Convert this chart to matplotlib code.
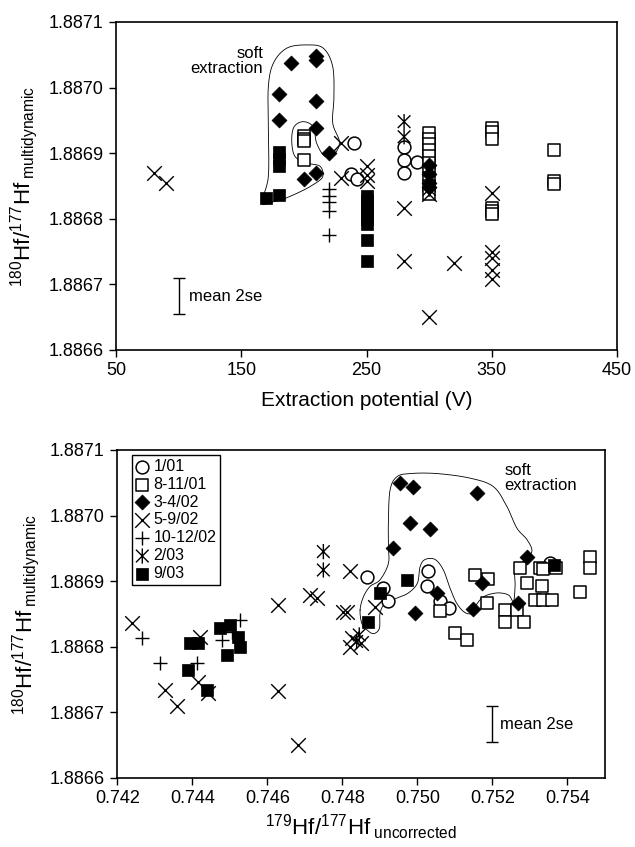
import numpy as np
import matplotlib
matplotlib.use('Agg')
import matplotlib.pyplot as plt
import matplotlib.ticker as ticker
from matplotlib.path import Path

plt.rcParams['font.family'] = 'Liberation Sans'
plt.rcParams['mathtext.fontset'] = 'custom'
plt.rcParams['mathtext.rm'] = 'Liberation Sans'
plt.rcParams['mathtext.it'] = 'Liberation Sans:italic'
plt.rcParams['mathtext.bf'] = 'Liberation Sans:bold'

labels = ['1/01', '8-11/01', '3-4/02', '5-9/02', '10-12/02', '2/03', '9/03']

########## TOP PANEL: extraction potential (V) vs 180Hf/177Hf ##########
top_v = {
    '1/01':    [240, 238, 242, 280, 280, 280, 290],
    '8-11/01': [200, 200, 200, 200,
                300, 300, 300, 300, 300, 300, 300, 300, 300, 300,
                350, 350, 350, 350, 350, 350,
                400, 400, 400],
    '3-4/02':  [180, 180, 190, 200, 210, 210, 210, 210, 210, 220,
                300, 300, 300, 300],
    '5-9/02':  [80, 90, 230, 230, 250, 250, 250, 280, 280, 300, 300, 320,
                350, 350, 350, 350, 350],
    '10-12/02': [220, 220, 220, 220, 220],
    '2/03':    [280, 280, 300],
    '9/03':    [170, 180, 180, 180, 180,
                250, 250, 250, 250, 250, 250, 250, 250, 250],
}
top_r = {
    '1/01':    [1.886915, 1.886868, 1.886860, 1.886910, 1.886890, 1.886869, 1.886887],
    '8-11/01': [1.886926, 1.886922, 1.886918, 1.886890,
                1.886930, 1.886922, 1.886914, 1.886905, 1.886896, 1.886885,
                1.886875, 1.886862, 1.886850, 1.886838,
                1.886939, 1.886932, 1.886922, 1.886817, 1.886812, 1.886807,
                1.886905, 1.886857, 1.886853],
    '3-4/02':  [1.886990, 1.886950, 1.887037, 1.886860, 1.887048, 1.887042,
                1.886980, 1.886938, 1.886870, 1.886900,
                1.886882, 1.886868, 1.886855, 1.886848],
    '5-9/02':  [1.886870, 1.886854, 1.886915, 1.886862, 1.886880, 1.886867,
                1.886857, 1.886816, 1.886735, 1.886838, 1.886650, 1.886732,
                1.886839, 1.886750, 1.886740, 1.886722, 1.886708],
    '10-12/02': [1.886845, 1.886835, 1.886825, 1.886812, 1.886775],
    '2/03':    [1.886948, 1.886925, 1.886845],
    '9/03':    [1.886831, 1.886836, 1.886901, 1.886891, 1.886881,
                1.886835, 1.886828, 1.886820, 1.886813, 1.886806, 1.886800,
                1.886792, 1.886768, 1.886735],
}

########## BOTTOM PANEL: 179Hf/177Hf vs 180Hf/177Hf ##########
bot_x = {
    '1/01':    [0.748651, 0.749093, 0.749227, 0.750293, 0.750251, 0.750600,
                0.750830, 0.753539],
    '8-11/01': [0.751539, 0.751893, 0.752740, 0.753270, 0.753340, 0.752917,
                0.753317, 0.753139, 0.753360, 0.753580, 0.751850, 0.750605,
                0.752340, 0.752650, 0.752340, 0.752830, 0.751000, 0.751320,
                0.754600, 0.754600, 0.754330, 0.753700],
    '3-4/02':  [0.749539, 0.749893, 0.751584, 0.749805, 0.750340, 0.749360,
                0.752917, 0.751717, 0.750517, 0.749939, 0.751493, 0.752693],
    '5-9/02':  [0.742384, 0.743272, 0.743584, 0.744205, 0.744160, 0.744427,
                0.746293, 0.746293, 0.746827, 0.747139, 0.747317, 0.748027,
                0.748117, 0.748205, 0.748205, 0.748250, 0.748500, 0.748872],
    '10-12/02': [0.742650, 0.743139, 0.744117, 0.744784, 0.745272, 0.745050],
    '2/03':    [0.747493, 0.747493, 0.748380, 0.748450],
    '9/03':    [0.743939, 0.744160, 0.743893, 0.744384, 0.744739, 0.745005,
                0.745227, 0.745272, 0.744917, 0.749717, 0.749005, 0.748693,
                0.753630],
}
bot_r = {
    '1/01':    [1.886907, 1.886889, 1.886869, 1.886915, 1.886892, 1.886869,
                1.886859, 1.886927],
    '8-11/01': [1.886909, 1.886904, 1.886920, 1.886920, 1.886918, 1.886897,
                1.886892, 1.886871, 1.886871, 1.886871, 1.886866, 1.886854,
                1.886856, 1.886856, 1.886838, 1.886838, 1.886821, 1.886810,
                1.886937, 1.886920, 1.886884, 1.886920],
    '3-4/02':  [1.887049, 1.887044, 1.887034, 1.886988, 1.886980, 1.886950,
                1.886937, 1.886897, 1.886882, 1.886851, 1.886857, 1.886867],
    '5-9/02':  [1.886836, 1.886734, 1.886709, 1.886815, 1.886747, 1.886729,
                1.886864, 1.886732, 1.886650, 1.886879, 1.886874, 1.886853,
                1.886853, 1.886915, 1.886800, 1.886813, 1.886805, 1.886860],
    '10-12/02': [1.886814, 1.886775, 1.886775, 1.886810, 1.886841, 1.886822],
    '2/03':    [1.886945, 1.886917, 1.886808, 1.886818],
    '9/03':    [1.886805, 1.886805, 1.886765, 1.886734, 1.886828, 1.886833,
                1.886815, 1.886800, 1.886787, 1.886902, 1.886882, 1.886837,
                1.886925],
}

# hand drawn "soft extraction" outlines (data coords)
top_loop = [(166.3, 1.886824), (171.6, 1.886864), (171.6, 1.886940), (171.6, 1.887001),
            (175.6, 1.887037), (186.3, 1.887060), (202.3, 1.887065), (215.5, 1.887060),
            (223.0, 1.887032), (224.0, 1.886986), (223.0, 1.886946), (228.3, 1.886918),
            (224.9, 1.886900), (216.9, 1.886895), (210.2, 1.886915), (207.5, 1.886940),
            (199.5, 1.886948), (192.1, 1.886940), (190.3, 1.886918), (192.9, 1.886895),
            (202.3, 1.886885), (212.9, 1.886880), (215.0, 1.886864), (207.5, 1.886852),
            (196.9, 1.886841), (183.6, 1.886830), (175.6, 1.886826)]
bot_loop = [(0.748472, 1.886856), (0.748517, 1.886836), (0.748651, 1.886826), (0.748827, 1.886820),
            (0.748987, 1.886828), (0.749005, 1.886851), (0.749139, 1.886866), (0.749451, 1.886874),
            (0.749760, 1.886882), (0.750000, 1.886897), (0.750072, 1.886922), (0.750205, 1.886933),
            (0.750472, 1.886933), (0.750693, 1.886917), (0.750872, 1.886889), (0.751051, 1.886866),
            (0.751272, 1.886852), (0.751493, 1.886851), (0.751539, 1.886861), (0.751760, 1.886876),
            (0.752117, 1.886882), (0.752427, 1.886879), (0.752560, 1.886869), (0.752605, 1.886893),
            (0.752605, 1.886917), (0.752819, 1.886930), (0.753051, 1.886945), (0.752925, 1.886963),
            (0.752650, 1.886981), (0.752384, 1.887014), (0.752027, 1.887044), (0.751405, 1.887057),
            (0.750517, 1.887064), (0.749805, 1.887064), (0.749451, 1.887059), (0.749272, 1.887039),
            (0.749227, 1.886993), (0.749227, 1.886955), (0.749227, 1.886927), (0.749005, 1.886902),
            (0.748739, 1.886892), (0.748560, 1.886876)]

mean_2se = 0.0000275

########## STYLE ##########
star = Path([(-1, -1), (1, 1), (-1, 1), (1, -1), (0, -1.2), (0, 1.2)],
            [Path.MOVETO, Path.LINETO] * 3)
styles = {
    '1/01':    dict(marker='o', s=85, facecolors='white', edgecolors='k', linewidths=1.1),
    '8-11/01': dict(marker='s', s=70, facecolors='white', edgecolors='k', linewidths=1.1),
    '3-4/02':  dict(marker='D', s=58, facecolors='k', edgecolors='k', linewidths=0.5),
    '5-9/02':  dict(marker='x', s=110, c='k', linewidths=1.0),
    '10-12/02': dict(marker='+', s=100, c='k', linewidths=1.0),
    '2/03':    dict(marker=star, s=120, facecolors='none', edgecolors='k', linewidths=1.0),
    '9/03':    dict(marker='s', s=80, facecolors='k', edgecolors='k', linewidths=0.5),
}

def smooth_loop(pts, n=16):
    # closed Catmull-Rom spline through the outline points
    p = np.array(pts, float); N = len(p); out = []
    t = np.linspace(0, 1, n, endpoint=False)[:, None]
    for i in range(N):
        p0, p1, p2, p3 = p[i-1], p[i], p[(i+1) % N], p[(i+2) % N]
        out.append(0.5*(2*p1 + (-p0+p2)*t + (2*p0-5*p1+4*p2-p3)*t**2
                        + (-p0+3*p1-3*p2+p3)*t**3))
    out = np.vstack(out)
    return np.vstack([out, out[:1]])

def style_axes(ax):
    plt.setp(ax.spines.values(), linewidth=1.2)
    ax.tick_params(direction='out', length=5, width=1, labelsize=13, pad=4)
    ax.set_ylim(1.8866, 1.8871)
    ax.yaxis.set_major_locator(ticker.MultipleLocator(0.0001))
    ax.yaxis.set_major_formatter(ticker.FormatStrFormatter('%.4f'))

fig = plt.figure(figsize=(6.35, 8.47), dpi=100)
ax1 = fig.add_axes([0.1827, 0.5868, 0.789, 0.3873])
ax2 = fig.add_axes([0.1847, 0.0815, 0.768, 0.3873])

ylab = r'$^{180}$Hf/$^{177}$Hf$_{\mathrm{\ multidynamic}}$'

# top panel
style_axes(ax1)
lp = smooth_loop(top_loop)
ax1.plot(lp[:, 0], lp[:, 1], color='k', lw=0.6, zorder=1)
for lab in labels:
    ax1.scatter(top_v[lab], top_r[lab], zorder=2, **styles[lab])
ax1.set_xlim(50, 450)
ax1.set_xticks(np.arange(50, 451, 100))
ax1.set_xlabel('Extraction potential (V)', fontsize=15)
ax1.xaxis.set_label_coords(0.5, -0.125)
ax1.set_ylabel(ylab, fontsize=16)
ax1.yaxis.set_label_coords(-0.152, 0.5)
ax1.errorbar([100], [1.886682], yerr=[mean_2se], color='k', lw=1, capsize=4.5, capthick=1)
ax1.text(108, 1.886682, 'mean 2se', fontsize=12, va='center', ha='left')
ax1.text(167.5, 1.887040, 'soft\nextraction', fontsize=12, va='center', ha='right',
         multialignment='right', linespacing=1.0)

# bottom panel
style_axes(ax2)
lp = smooth_loop(bot_loop)
ax2.plot(lp[:, 0], lp[:, 1], color='k', lw=0.6, zorder=1)
handles = []
for lab in labels:
    h = ax2.scatter(bot_x[lab], bot_r[lab], zorder=2, label=lab, **styles[lab])
    handles.append(h)
ax2.set_xlim(0.742, 0.755)
ax2.xaxis.set_major_locator(ticker.MultipleLocator(0.002))
ax2.xaxis.set_major_formatter(ticker.FormatStrFormatter('%.3f'))
ax2.set_xlabel(r'$^{179}$Hf/$^{177}$Hf$_{\mathrm{\ uncorrected}}$', fontsize=16)
ax2.xaxis.set_label_coords(0.5, -0.105)
ax2.set_ylabel(ylab, fontsize=16)
ax2.yaxis.set_label_coords(-0.155, 0.5)
ax2.errorbar([0.752], [1.886682], yerr=[mean_2se], color='k', lw=1, capsize=4.5, capthick=1)
ax2.text(0.75219, 1.886682, 'mean 2se', fontsize=12, va='center', ha='left')
ax2.text(0.75232, 1.887057, 'soft\nextraction', fontsize=12, va='center', ha='left',
         linespacing=1.0)

leg = ax2.legend(handles=handles, loc='upper left', bbox_to_anchor=(0.03, 0.985),
                 fontsize=11.5, scatterpoints=1, frameon=True, fancybox=False,
                 edgecolor='k', framealpha=1, handlelength=0.8, handletextpad=0.3,
                 labelspacing=0.18, borderpad=0.25, borderaxespad=0)
leg.get_frame().set_linewidth(1.0)

plt.savefig('out.png', dpi=100)
